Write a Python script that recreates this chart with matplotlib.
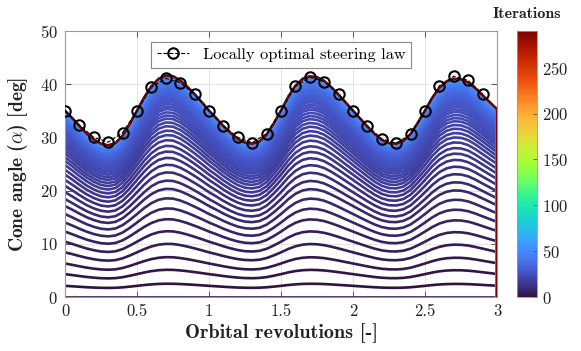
import numpy as np
import matplotlib
matplotlib.use("Agg")
import matplotlib.pyplot as plt
from matplotlib.colors import Normalize
from matplotlib.cm import ScalarMappable

plt.rcParams["font.family"] = "cmr10"
plt.rcParams["mathtext.fontset"] = "cm"
plt.rcParams["axes.formatter.use_mathtext"] = True

# converged steering profile, every 0.05 revolutions
orbit_x = np.arange(61) * 0.05
converged_alpha = [
    35.0, 33.6, 32.1, 30.7, 29.6, 28.8, 28.5, 28.9, 30.3, 32.5,
    35.0, 37.5, 39.6, 41.0, 41.6, 41.5, 40.7, 39.5, 38.1, 36.6,
    35.0, 33.6, 32.1, 30.8, 29.7, 29.0, 28.8, 29.2, 30.5, 32.6,
    35.0, 37.6, 39.7, 41.0, 41.5, 41.3, 40.6, 39.4, 38.0, 36.5,
    35.0, 33.5, 32.0, 30.6, 29.5, 28.9, 28.8, 29.3, 30.6, 32.7,
    35.0, 37.4, 39.3, 40.5, 41.0, 40.9, 40.3, 39.2, 37.9, 36.6,
    35.3,
]

# cone angle at the start of the orbit for each iteration (0, 1, 2, ...)
start_alpha = [
    0.0, 2.1, 4.3, 6.3, 8.4, 10.4, 12.3, 14.0, 15.6, 17.1,
    18.4, 19.7, 20.9, 22.0, 23.0, 23.9, 24.8, 25.6, 26.3, 27.0,
    27.6, 28.2, 28.7, 29.2, 29.7, 30.1, 30.5, 30.9, 31.2, 31.5,
    31.8, 32.1, 32.3, 32.5, 32.7, 32.9, 33.1, 33.3, 33.4, 33.5,
    33.65, 33.8, 33.9, 34.0, 34.1, 34.2, 34.3, 34.35, 34.4, 34.5,
    34.55, 34.6, 34.65, 34.7, 34.75, 34.8, 34.85, 34.9, 34.92, 34.95,
    34.97, 35.0,
]
final_iteration = 290

# locally optimal steering law, every 0.1 revolutions
lo_x = np.arange(30) * 0.1
lo_alpha = [
    35.0, 32.3, 30.0, 29.1, 30.9, 35.0, 39.4, 41.1, 40.3, 38.1,
    35.0, 32.2, 30.0, 29.0, 30.7, 35.0, 39.6, 41.3, 40.5, 38.2,
    35.0, 32.2, 29.7, 28.9, 30.6, 35.0, 39.7, 41.5, 40.7, 38.2,
]

fig = plt.figure(figsize=(5.81, 3.51), dpi=100)
ax = fig.add_axes([0.1119, 0.1538, 0.7435, 0.7579])
cax = fig.add_axes([0.890, 0.1538, 0.034, 0.7579])

cmap = plt.get_cmap("turbo")
norm = Normalize(vmin=0, vmax=final_iteration)

conv = np.array(converged_alpha)
# each iterate ends at zero at the final revolution
x_path = np.append(orbit_x, 3.0)
for it, a0 in enumerate(start_alpha):
    y = np.append(conv * a0 / converged_alpha[0], 0.0)
    ax.plot(x_path, y, color=cmap(norm(it)), lw=1.9, zorder=2)
ax.plot(x_path, np.append(conv, 0.0), color=cmap(norm(final_iteration)),
        lw=1.8, zorder=3)

ax.plot(lo_x, lo_alpha, "--o", color="black", lw=0.8, ms=7.5, mew=1.5,
        mfc="none", zorder=4, label="Locally optimal steering law")

ax.set_xlim(0, 3)
ax.set_ylim(0, 50)
ax.set_xticks(np.arange(0, 3.01, 0.5))
ax.set_xticklabels(["0", "0.5", "1", "1.5", "2", "2.5", "3"])
ax.set_yticks(np.arange(0, 51, 10))
ax.grid(True, color="#e3e3e3", lw=0.7, zorder=0)
ax.set_axisbelow(True)
ax.tick_params(direction="in", length=4, width=0.7, colors="#555555",
               labelcolor="#222222", labelsize=12, top=True, right=True, pad=5)
for s in ax.spines.values():
    s.set_color("#999999")
    s.set_linewidth(0.8)

ax.set_xlabel("Orbital revolutions [-]", fontfamily="cmb10", fontsize=14.5,
              color="#222222", labelpad=3)
ax.set_ylabel(r"Cone angle ($\alpha$) [deg]", fontfamily="cmb10", fontsize=14,
              color="#222222", labelpad=7)

leg = ax.legend(loc="upper center", bbox_to_anchor=(0.5, 0.99), fontsize=11.8,
                fancybox=False, framealpha=1, edgecolor="#888888",
                handlelength=2.0, borderpad=0.35)
leg.get_frame().set_linewidth(0.8)

sm = ScalarMappable(norm=norm, cmap=cmap)
cb = fig.colorbar(sm, cax=cax, ticks=np.arange(0, 251, 50))
cb.outline.set_edgecolor("#999999")
cb.outline.set_linewidth(0.6)
cax.tick_params(direction="in", length=3, width=0.6, colors="#555555",
                labelcolor="#222222", labelsize=12)
cax.set_title("Iterations", fontfamily="cmb10", fontsize=11.5, color="#222222",
              pad=9)

fig.savefig("out.png", dpi=100)
